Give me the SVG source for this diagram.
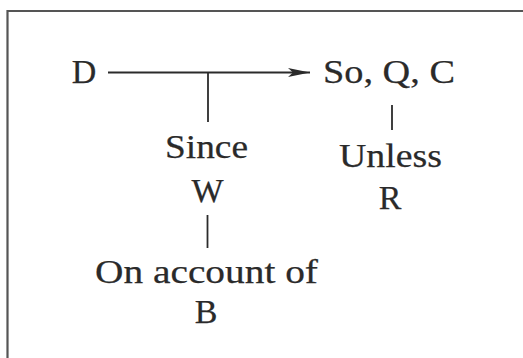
<svg xmlns="http://www.w3.org/2000/svg" width="523" height="358" viewBox="0 0 523 358">
  <style>
    text { font-family: 'Liberation Serif', 'Times New Roman', Times, serif; font-size: 34px; fill: #2a2a2a; stroke: #2a2a2a; stroke-width: 0.25; text-anchor: middle; }
    .c { stroke: #2b2b2b; stroke-width: 1.8; fill: none; }
    .frame { stroke: #555555; stroke-width: 2.2; fill: none; }
  </style>
  <defs>
    <marker id="arrow" markerUnits="userSpaceOnUse" markerWidth="23" markerHeight="12" refX="22" refY="6" orient="auto">
      <path d="M0,1.5 L22,6 L0,10.5 L5,6 z" fill="#2b2b2b"/>
    </marker>
  </defs>
  <rect width="523" height="358" fill="#ffffff"/>
  <path class="frame" d="M7.5,360 V11 H525"/>
  <g id="connectors">
    <line class="c" x1="108" y1="72.5" x2="310" y2="72.5" marker-end="url(#arrow)"/>
    <line class="c" x1="208" y1="72.5" x2="208" y2="122"/>
    <line class="c" x1="207.5" y1="215" x2="207.5" y2="248"/>
    <line class="c" x1="392" y1="105" x2="392" y2="130"/>
  </g>
  <g id="node-D">
    <text x="84" y="83">D</text>
  </g>
  <g id="node-SoQC">
    <text x="389" y="83" textLength="132" lengthAdjust="spacingAndGlyphs">So, Q, C</text>
  </g>
  <g id="node-SinceW">
    <text x="206.5" y="158" textLength="83" lengthAdjust="spacingAndGlyphs">Since</text>
    <text x="207.5" y="202">W</text>
  </g>
  <g id="node-UnlessR">
    <text x="390.5" y="167" textLength="103" lengthAdjust="spacingAndGlyphs">Unless</text>
    <text x="390" y="209">R</text>
  </g>
  <g id="node-OnAccountB">
    <text x="206.5" y="283" textLength="223" lengthAdjust="spacingAndGlyphs">On account of</text>
    <text x="206" y="323">B</text>
  </g>
</svg>
